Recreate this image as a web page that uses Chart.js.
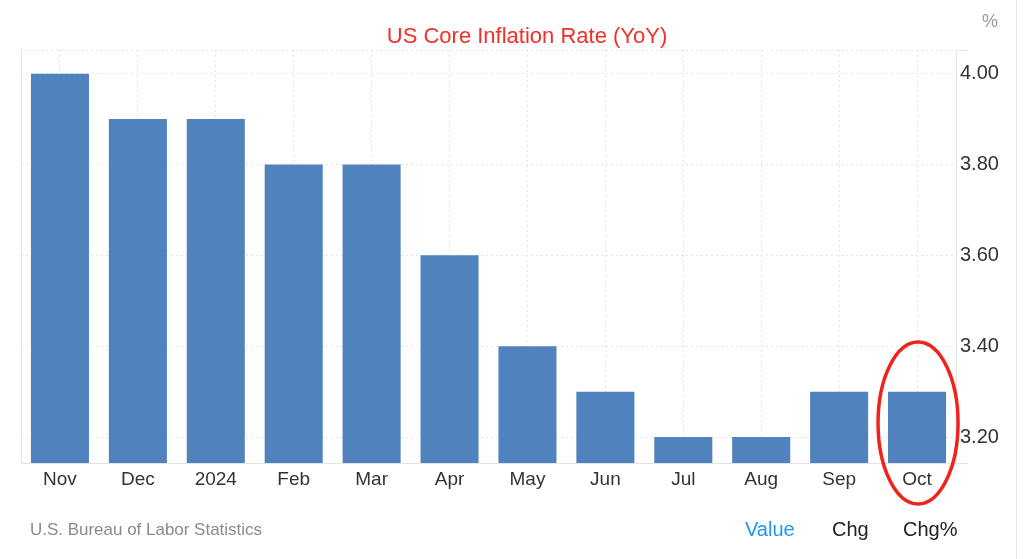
<!DOCTYPE html>
<html>
<head>
<meta charset="utf-8">
<script src="https://cdn.jsdelivr.net/npm/chart.js@4"></script>
<style>
  html, body { margin: 0; padding: 0; background: #fff; }
  #wrap { width: 1024px; height: 559px; position: relative; }
</style>
</head>
<body>
<div id="wrap"><canvas id="coreChart" width="1024" height="559"></canvas></div>
<script>
const months = ['Nov', 'Dec', '2024', 'Feb', 'Mar', 'Apr', 'May', 'Jun', 'Jul', 'Aug', 'Sep', 'Oct'];
const coreRate = [4.0, 3.9, 3.9, 3.8, 3.8, 3.6, 3.4, 3.3, 3.2, 3.2, 3.3, 3.3];
const yTicks = [3.2, 3.4, 3.6, 3.8, 4.0];
const chartTitle = 'US Core Inflation Rate (YoY)';
const sourceText = 'U.S. Bureau of Labor Statistics';
const tabLabels = ['Value', 'Chg', 'Chg%'];
const circledMonth = 'Oct';

const FONT = '"Liberation Sans", Arial, sans-serif';

// title, unit, footer, red circle
const extras = {
  id: 'extras',
  beforeDraw(chart) {
    const ctx = chart.ctx;
    const a = chart.chartArea;
    ctx.save();
    ctx.strokeStyle = '#e3e3e3';
    ctx.lineWidth = 1;
    ctx.beginPath();
    ctx.moveTo(a.left + 0.5, a.top);
    ctx.lineTo(a.left + 0.5, a.bottom);
    ctx.moveTo(a.right, a.top + 0.5);
    ctx.lineTo(a.right + 12, a.top + 0.5);
    ctx.moveTo(a.right, a.bottom + 0.5);
    ctx.lineTo(a.right + 12, a.bottom + 0.5);
    ctx.moveTo(1016.5, 0);
    ctx.lineTo(1016.5, 559);
    ctx.stroke();
    ctx.restore();
  },
  afterDraw(chart) {
    const ctx = chart.ctx;
    ctx.save();
    ctx.textBaseline = 'middle';

    ctx.fillStyle = '#f0302a';
    ctx.font = '22px ' + FONT;
    ctx.textAlign = 'center';
    ctx.fillText(chartTitle, 527, 37);

    ctx.fillStyle = '#999';
    ctx.font = '18px ' + FONT;
    ctx.fillText('%', 990, 22);

    ctx.textAlign = 'left';
    ctx.fillStyle = '#8a8a8a';
    ctx.font = '17px ' + FONT;
    ctx.fillText(sourceText, 30, 530, 232);

    ctx.font = '20px ' + FONT;
    const tabX = [745, 832, 903];
    tabLabels.forEach((t, i) => {
      ctx.fillStyle = i === 0 ? '#2196f3' : '#222';
      ctx.fillText(t, tabX[i], 530);
    });

    // red ellipse around the last month
    const x = chart.scales.x.getPixelForValue(months.indexOf(circledMonth));
    ctx.strokeStyle = '#f0231c';
    ctx.lineWidth = 3.5;
    ctx.beginPath();
    ctx.ellipse(x + 1, 423, 40, 81, 0, 0, Math.PI * 2);
    ctx.stroke();
    ctx.restore();
  }
};

const ctx = document.getElementById('coreChart').getContext('2d');

const coreChart = new Chart(ctx, {
  type: 'bar',
  data: {
    labels: months,
    datasets: [{
      label: 'Core Inflation',
      data: coreRate,
      backgroundColor: '#5083be',
      borderWidth: 0,
      barPercentage: 0.745,
      categoryPercentage: 1.0
    }]
  },
  options: {
    responsive: false,
    animation: false,
    layout: { padding: { top: 50, left: 21, right: 0, bottom: 56 } },
    plugins: {
      legend: { display: false },
      title: { display: false },
      tooltip: { enabled: false }
    },
    scales: {
      x: {
        grid: {
          offset: false,
          color: '#e3e3e3',
          drawTicks: false
        },
        border: { display: true, color: '#e3e3e3', dash: [2, 3] },
        ticks: {
          color: '#333',
          font: { family: FONT, size: 19 },
          padding: 5,
          maxRotation: 0,
          autoSkip: false
        },
        afterFit(scale) { scale.height = 40; }
      },
      y: {
        position: 'right',
        min: 3.143,
        max: 4.052,
        grid: {
          color: '#e3e3e3',
          drawTicks: false
        },
        border: { display: true, color: '#e3e3e3', dash: [2, 3] },
        ticks: {
          stepSize: 0.2,
          color: '#333',
          font: { family: FONT, size: 20 },
          padding: 4,
          callback: (v) => yTicks.some(t => Math.abs(t - v) < 1e-6) ? v.toFixed(2) : ''
        },
        afterFit(scale) { scale.width = 68; }
      }
    }
  },
  plugins: [extras]
});
</script>
</body>
</html>
